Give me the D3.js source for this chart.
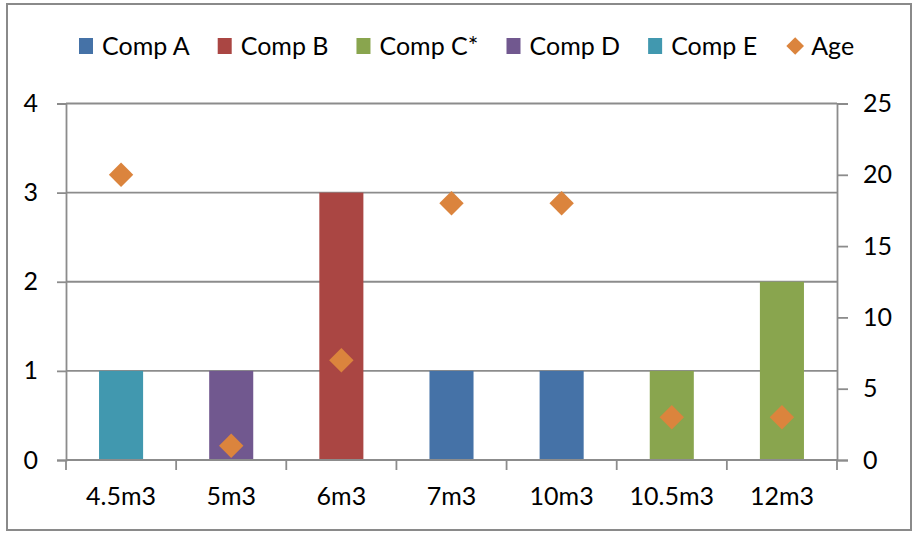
<!DOCTYPE html>
<html>
<head>
<meta charset="utf-8">
<script src="https://cdn.jsdelivr.net/npm/d3@7"></script>
<style>
  html, body { margin: 0; padding: 0; background: #fff; }
  svg { display: block; }
  text { font-family: Lato, "Noto Sans", sans-serif; fill: #000; }
</style>
</head>
<body>
<svg id="chart" width="914" height="533"></svg>
<script>
// Tank sizes on the category axis
const categories = ["4.5m3", "5m3", "6m3", "7m3", "10m3", "10.5m3", "12m3"];
// Company series (count per tank size), stacked on the left axis
const seriesNames = ["Comp A", "Comp B", "Comp C*", "Comp D", "Comp E"];
const compA = [0, 0, 0, 1, 1, 0, 0];
const compB = [0, 0, 3, 0, 0, 0, 0];
const compC = [0, 0, 0, 0, 0, 1, 2];
const compD = [0, 1, 0, 0, 0, 0, 0];
const compE = [1, 0, 0, 0, 0, 0, 0];
// Age on the secondary axis
const age = [20, 1, 7, 18, 18, 3, 3];
const leftTicks = [0, 1, 2, 3, 4];
const rightTicks = [0, 5, 10, 15, 20, 25];
const seriesColors = ["#4572A7", "#AA4643", "#89A54E", "#71588F", "#4198AF"];
const ageColor = "#DB843D";

const svg = d3.select("#chart");
const plot = { left: 66, right: 837, top: 103.5, bottom: 460 };
const gridColor = "#8c8c8c";
const fontSize = 25;

// outer frame
svg.append("rect")
  .attr("x", 7).attr("y", 4)
  .attr("width", 904).attr("height", 526)
  .attr("fill", "#fff").attr("stroke", "#8a8a8a").attr("stroke-width", 2);

const x = d3.scaleBand().domain(categories)
  .range([plot.left, plot.right]).paddingInner(0.6).paddingOuter(0.3);
const xOuter = d3.scaleBand().domain(categories).range([plot.left, plot.right]);
const yL = d3.scaleLinear().domain([0, 4]).range([plot.bottom, plot.top]);
const yR = d3.scaleLinear().domain([0, 25]).range([plot.bottom, plot.top]);

// horizontal gridlines
svg.append("g").selectAll("line").data(leftTicks.filter(d => d > 0)).join("line")
  .attr("x1", plot.left).attr("x2", plot.right)
  .attr("y1", d => yL(d)).attr("y2", d => yL(d))
  .attr("stroke", gridColor).attr("stroke-width", 1.8);

// stacked bars
const rows = categories.map((c, i) => ({
  cat: c, "Comp A": compA[i], "Comp B": compB[i], "Comp C*": compC[i],
  "Comp D": compD[i], "Comp E": compE[i]
}));
const stack = d3.stack().keys(seriesNames)(rows);
svg.append("g").selectAll("g").data(stack).join("g")
  .attr("fill", (d, i) => seriesColors[i])
  .selectAll("rect").data(d => d.filter(s => s[1] - s[0] > 0)).join("rect")
  .attr("x", d => x(d.data.cat))
  .attr("width", x.bandwidth())
  .attr("y", d => yL(d[1]))
  .attr("height", d => yL(d[0]) - yL(d[1]));

// left axis
const axL = svg.append("g").attr("transform", `translate(${plot.left},0)`)
  .call(d3.axisLeft(yL).tickValues(leftTicks).tickFormat(d3.format("d"))
    .tickSize(9).tickPadding(19));
// right axis
const axR = svg.append("g").attr("transform", `translate(${plot.right},0)`)
  .call(d3.axisRight(yR).tickValues(rightTicks).tickFormat(d3.format("d"))
    .tickSize(11).tickPadding(15));
// category axis
const axB = svg.append("g").attr("transform", `translate(0,${plot.bottom})`)
  .call(d3.axisBottom(xOuter).tickSize(0).tickPadding(27));
axB.append("g").selectAll("line")
  .data(categories.map(c => xOuter(c)).concat([plot.right])).join("line")
  .attr("x1", d => d).attr("x2", d => d).attr("y1", 0).attr("y2", 10)
  .attr("stroke", gridColor).attr("stroke-width", 1.8);

[axL, axR, axB].forEach(g => {
  g.selectAll("path.domain").attr("stroke", gridColor).attr("stroke-width", 1.8);
  g.selectAll(".tick line").attr("stroke", gridColor).attr("stroke-width", 1.8);
  g.selectAll("text").attr("font-family", "Lato, 'Noto Sans', sans-serif")
    .attr("font-size", fontSize).attr("fill", "#000");
});
axB.select("path.domain").attr("d", `M${plot.left},0H${plot.right}`);

// age markers
const diamond = d3.symbol().type(d3.symbolDiamond2).size(380);
svg.append("g").selectAll("path").data(age).join("path")
  .attr("d", diamond)
  .attr("transform", (d, i) => `translate(${xOuter(categories[i]) + xOuter.bandwidth() / 2},${yR(d)})`)
  .attr("fill", ageColor);

// legend
const legendItems = seriesNames.map((n, i) => ({ name: n, color: seriesColors[i], type: "bar" }))
  .concat([{ name: "Age", color: ageColor, type: "marker" }]);
const legend = svg.append("g");
let lx = 79;
const ly = 46;
legendItems.forEach(item => {
  const g = legend.append("g").attr("transform", `translate(${lx},0)`);
  let w;
  if (item.type === "bar") {
    g.append("rect").attr("x", 0).attr("y", ly - 8).attr("width", 14).attr("height", 16)
      .attr("fill", item.color);
    w = 23;
  } else {
    g.append("path").attr("d", d3.symbol().type(d3.symbolDiamond2).size(200))
      .attr("transform", `translate(10,${ly})`).attr("fill", item.color);
    w = 26;
  }
  const t = g.append("text").attr("x", w).attr("y", ly).attr("dy", "0.35em")
    .attr("font-size", fontSize).text(item.name);
  lx += w + t.node().getComputedTextLength() + 28;
});
</script>
</body>
</html>
